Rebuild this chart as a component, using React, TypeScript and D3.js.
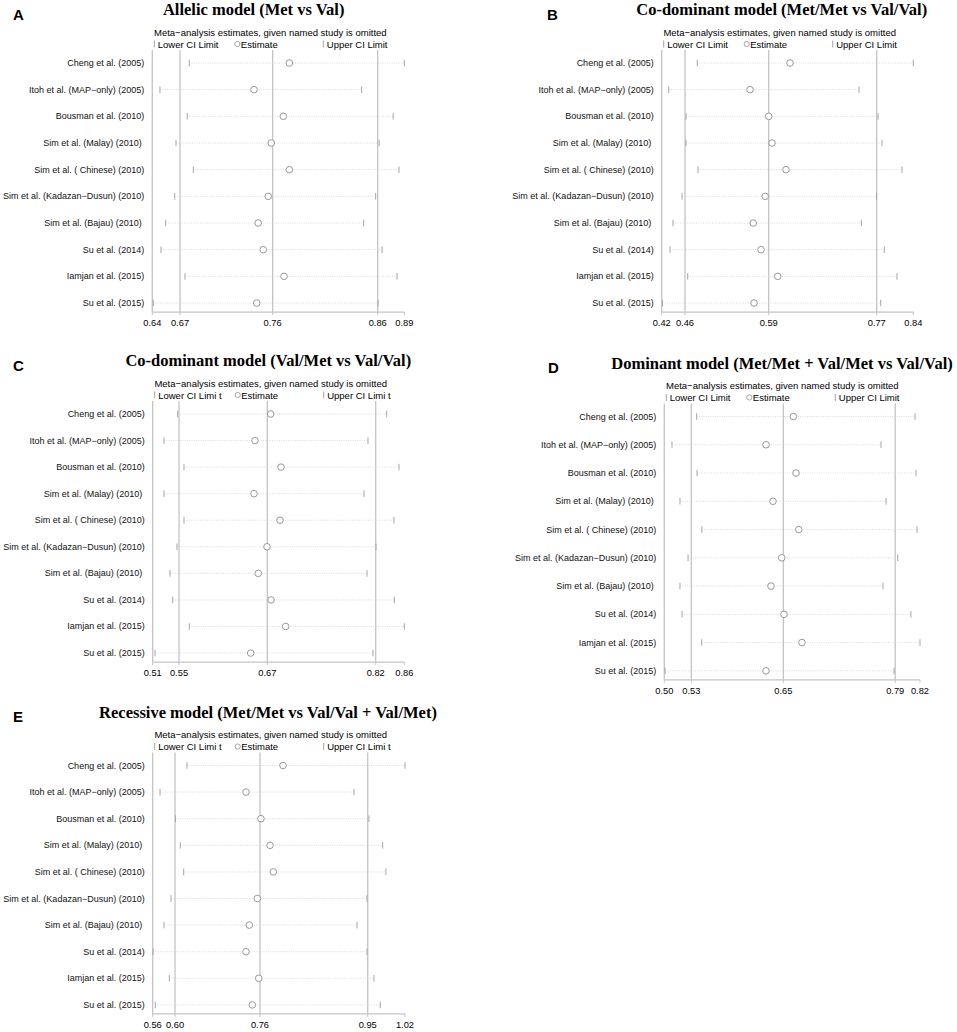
import React from 'react';
import * as d3 from 'd3';

// study names, shared by all five panels
const studies = [
  'Cheng et al. (2005)',
  'Itoh et al. (MAP\u2212only) (2005)',
  'Bousman et al. (2010)',
  'Sim et al. (Malay) (2010)\u00a0',
  'Sim et al. ( Chinese) (2010)',
  'Sim et al. (Kadazan\u2212Dusun) (2010)',
  'Sim et al. (Bajau) (2010)\u00a0',
  'Su et al. (2014)',
  'Iamjan et al. (2015)',
  'Su et al. (2015)',
];

// A: allelic model
const allelicLower = [0.6767, 0.6476, 0.6747, 0.6635, 0.6807, 0.6622, 0.6533, 0.6486, 0.6724, 0.641];
const allelicEst = [0.776, 0.7409, 0.77, 0.758, 0.776, 0.755, 0.745, 0.75, 0.7707, 0.7436];
const allelicUpper = [0.89, 0.8477, 0.879, 0.865, 0.8847, 0.8616, 0.8497, 0.868, 0.8828, 0.864];
const allelicTicks = [0.64, 0.6675, 0.7594, 0.8636, 0.89];
const allelicTickLabels = ['0.64', '0.67', '0.76', '0.86', '0.89'];

// B: co-dominant Met/Met vs Val/Val
const homLower = [0.4794, 0.4317, 0.4606, 0.4606, 0.4806, 0.4539, 0.4389, 0.4339, 0.4634, 0.4213];
const homEst = [0.6342, 0.5674, 0.5986, 0.6041, 0.6275, 0.5928, 0.5728, 0.5858, 0.6137, 0.5741];
const homUpper = [0.84, 0.7494, 0.7811, 0.7878, 0.8211, 0.7786, 0.7533, 0.7916, 0.8128, 0.7856];
const homTicks = [0.42, 0.4589, 0.5986, 0.7789, 0.84];
const homTickLabels = ['0.42', '0.46', '0.59', '0.77', '0.84'];

// C: co-dominant Val/Met vs Val/Val
const hetLower = [0.5448, 0.5257, 0.5535, 0.5257, 0.5535, 0.5438, 0.5341, 0.5378, 0.5609, 0.5132];
const hetEst = [0.6741, 0.6523, 0.6885, 0.6509, 0.6871, 0.669, 0.6569, 0.6746, 0.695, 0.6463];
const hetUpper = [0.8355, 0.8095, 0.8526, 0.804, 0.8456, 0.8206, 0.8081, 0.8461, 0.86, 0.8164];
const hetTicks = [0.51, 0.5466, 0.6694, 0.8202, 0.86];
const hetTickLabels = ['0.51', '0.55', '0.67', '0.82', '0.86'];

// D: dominant model
const domLower = [0.5405, 0.5096, 0.541, 0.5196, 0.547, 0.5297, 0.5196, 0.5222, 0.5468, 0.501];
const domEst = [0.6615, 0.6273, 0.6649, 0.636, 0.6684, 0.647, 0.6335, 0.6498, 0.6723, 0.6273];
const domUpper = [0.8138, 0.7712, 0.815, 0.7775, 0.8163, 0.7922, 0.7737, 0.8086, 0.82, 0.7875];
const domTicks = [0.5, 0.5338, 0.649, 0.789, 0.82];
const domTickLabels = ['0.50', '0.53', '0.65', '0.79', '0.82'];

// E: recessive model
const recLower = [0.6225, 0.5733, 0.6016, 0.6103, 0.6165, 0.5934, 0.5806, 0.5605, 0.5903, 0.5647];
const recEst = [0.7976, 0.7301, 0.7574, 0.7739, 0.7799, 0.7507, 0.7361, 0.7301, 0.7533, 0.7416];
const recUpper = [1.02, 0.927, 0.9543, 0.9793, 0.9853, 0.9507, 0.9325, 0.9507, 0.9634, 0.9749];
const recTicks = [0.56, 0.6007, 0.7556, 0.952, 1.02];
const recTickLabels = ['0.56', '0.60', '0.76', '0.95', '1.02'];

const SANS = '"Liberation Sans", Arial, sans-serif';
const SERIF = '"Liberation Serif", "Times New Roman", serif';
const LINE = '#c4c4c4';
const MARK = '#a6a6a6';

interface PanelProps {
  letter: string;
  title: string;
  limitWord: string;
  lower: number[];
  est: number[];
  upper: number[];
  ticks: number[];
  tickLabels: string[];
  letterX: number;
  top: number;
  titleX: number;
  plotLeft: number;
  plotRight: number;
  rowStep: number;
}

const Panel: React.FC<PanelProps> = (p) => {
  const legendY = p.top + 19;
  const legendRowY = p.top + 31;
  const rowTop = p.top + 50;
  const rowBottom = rowTop + p.rowStep * (studies.length - 1);
  const axisY = rowBottom + 9;

  const x = d3.scaleLinear().domain(d3.extent(p.ticks) as [number, number]).range([p.plotLeft, p.plotRight]);
  const y = d3.scalePoint<string>().domain(studies).range([rowTop, rowBottom]);
  const overall = p.ticks.slice(1, 4);
  const lineTop = legendRowY + 6;

  return (
    <g>
      <text x={p.letterX} y={p.top + 6.5} fontFamily={SANS} fontWeight="bold" fontSize={15}>{p.letter}</text>
      <text x={p.titleX} y={p.top + 2} textAnchor="middle" fontFamily={SERIF} fontWeight="bold" fontSize={16.5}>{p.title}</text>
      <text x={p.plotLeft + 118} y={legendY} textAnchor="middle" dominantBaseline="central" fontFamily={SANS} fontSize={9.5}>
        Meta{'\u2212'}analysis estimates, given named study is omitted
      </text>
      <g fontFamily={SANS} fontSize={9.5}>
        <line x1={p.plotLeft + 2} x2={p.plotLeft + 2} y1={legendRowY - 3.5} y2={legendRowY + 3.5} stroke={MARK} />
        <text x={p.plotLeft + 5.5} y={legendRowY} dominantBaseline="central">Lower CI {p.limitWord}</text>
        <circle cx={p.plotLeft + 85} cy={legendRowY} r={2.6} fill="none" stroke={MARK} />
        <text x={p.plotLeft + 88.5} y={legendRowY} dominantBaseline="central">Estimate</text>
        <line x1={p.plotLeft + 171} x2={p.plotLeft + 171} y1={legendRowY - 3.5} y2={legendRowY + 3.5} stroke={MARK} />
        <text x={p.plotLeft + 174.5} y={legendRowY} dominantBaseline="central">Upper CI {p.limitWord}</text>
      </g>

      {/* plot frame and overall estimate lines */}
      <line x1={p.plotLeft} x2={p.plotLeft} y1={lineTop} y2={axisY} stroke={LINE} strokeWidth={1.3} />
      {overall.map((v, i) => (
        <line key={i} x1={x(v)} x2={x(v)} y1={lineTop} y2={axisY} stroke={LINE} strokeWidth={1.3} />
      ))}

      {studies.map((s, i) => {
        const yy = y(s)!;
        return (
          <g key={s}>
            <text x={p.plotLeft - 8} y={yy} textAnchor="end" dominantBaseline="central" fontFamily={SANS} fontSize={9} fill="#111">{s}</text>
            <line x1={x(p.lower[i])} x2={x(p.upper[i])} y1={yy} y2={yy} stroke="#d2d2d2" strokeWidth={0.8} strokeDasharray="1 1.3" />
            <line x1={x(p.lower[i])} x2={x(p.lower[i])} y1={yy - 3.3} y2={yy + 3.3} stroke={MARK} />
            <line x1={x(p.upper[i])} x2={x(p.upper[i])} y1={yy - 3.3} y2={yy + 3.3} stroke={MARK} />
            <circle cx={x(p.est[i])} cy={yy} r={3.3} fill="white" stroke="#999" strokeWidth={1} />
          </g>
        );
      })}

      {/* x axis */}
      <line x1={p.plotLeft} x2={p.plotRight} y1={axisY} y2={axisY} stroke={LINE} strokeWidth={1.2} />
      {p.ticks.map((v, i) => (
        <g key={i}>
          <line x1={x(v)} x2={x(v)} y1={axisY} y2={axisY + 3} stroke={LINE} />
          <text x={x(v)} y={axisY + 11} textAnchor="middle" dominantBaseline="central" fontFamily={SANS} fontSize={9.3}>{p.tickLabels[i]}</text>
        </g>
      ))}
    </g>
  );
};

export default function App() {
  return (
    <svg width={957} height={1032} style={{ position: 'absolute', left: 0, top: 0, display: 'block', background: 'white' }}>
      <Panel letter="A" title="Allelic model (Met vs Val)" limitWord="Limit"
        lower={allelicLower} est={allelicEst} upper={allelicUpper} ticks={allelicTicks} tickLabels={allelicTickLabels}
        letterX={13} top={13} titleX={253.7} plotLeft={152.3} plotRight={404.3} rowStep={26.67} />
      <Panel letter="B" title="Co-dominant model (Met/Met vs Val/Val)" limitWord="Limit"
        lower={homLower} est={homEst} upper={homUpper} ticks={homTicks} tickLabels={homTickLabels}
        letterX={547} top={13} titleX={781.7} plotLeft={661.7} plotRight={913.3} rowStep={26.67} />
      <Panel letter="C" title="Co-dominant model (Val/Met vs Val/Val)" limitWord="Limi t"
        lower={hetLower} est={hetEst} upper={hetUpper} ticks={hetTicks} tickLabels={hetTickLabels}
        letterX={13} top={364} titleX={268.3} plotLeft={152.7} plotRight={404.3} rowStep={26.56} />
      <Panel letter="D" title="Dominant model (Met/Met + Val/Met vs Val/Val)" limitWord="Limit"
        lower={domLower} est={domEst} upper={domUpper} ticks={domTicks} tickLabels={domTickLabels}
        letterX={548} top={366.5} titleX={782} plotLeft={664.3} plotRight={920} rowStep={28.26} />
      <Panel letter="E" title="Recessive model (Met/Met vs Val/Val + Val/Met)" limitWord="Limi t"
        lower={recLower} est={recEst} upper={recUpper} ticks={recTicks} tickLabels={recTickLabels}
        letterX={13} top={715.5} titleX={268} plotLeft={152.7} plotRight={405} rowStep={26.6} />
    </svg>
  );
}
